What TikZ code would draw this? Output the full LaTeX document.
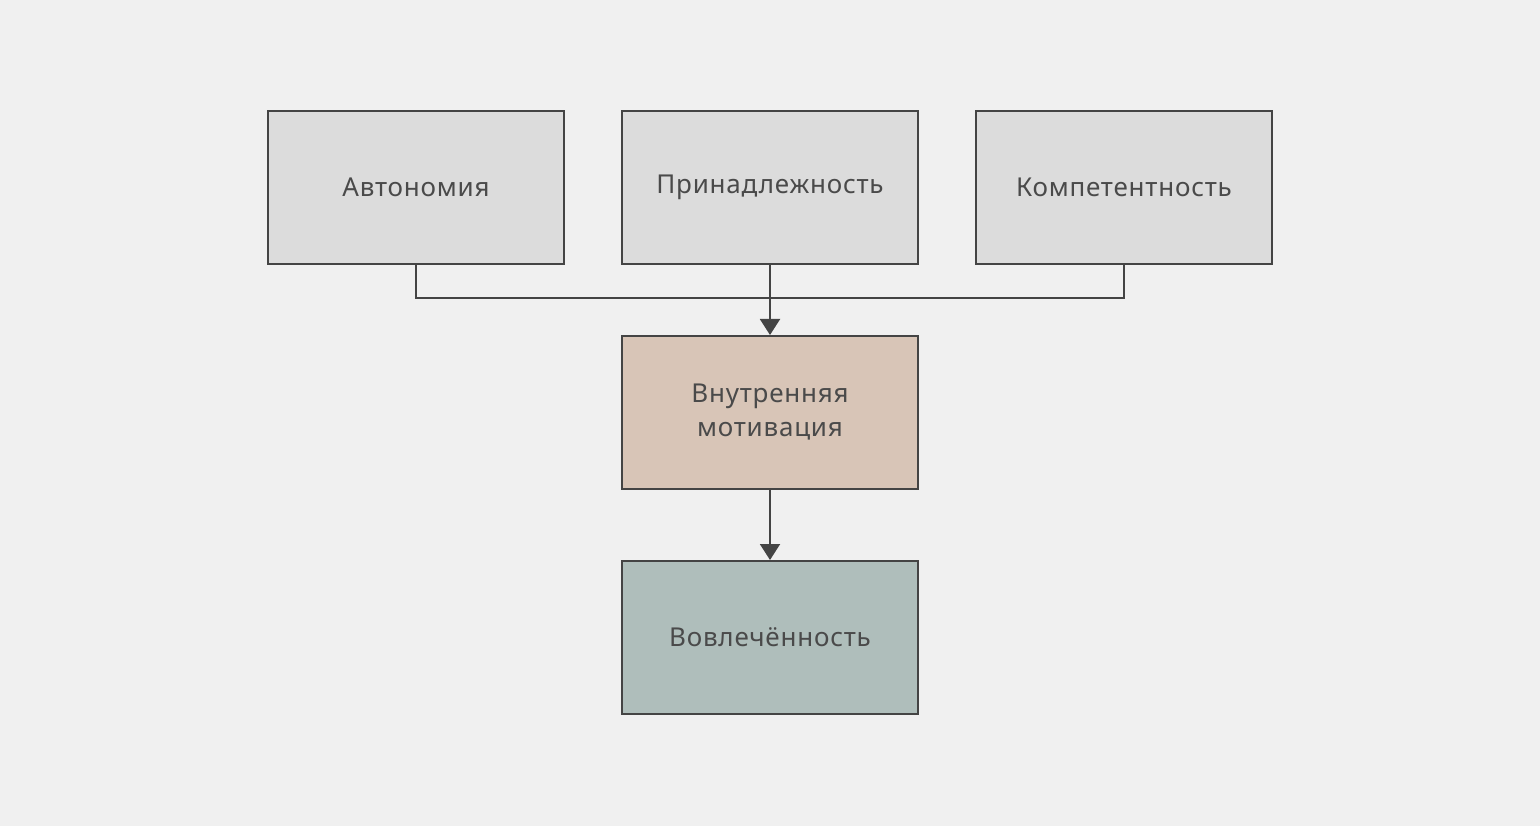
\documentclass[tikz,border=0pt]{standalone}
\usepackage{fontspec}
\setmainfont{Noto Sans}
\usetikzlibrary{arrows.meta}
\definecolor{bg}{HTML}{F0F0F0}
\definecolor{boxgray}{HTML}{DCDCDC}
\definecolor{boxtan}{HTML}{D8C5B7}
\definecolor{boxgreen}{HTML}{AFBEBB}
\definecolor{ink}{HTML}{444444}
\definecolor{txt}{HTML}{4A4A4A}
\begin{document}
\begin{tikzpicture}[x=1pt,y=-1pt,
  box/.style={draw=ink, line width=2pt, minimum width=296pt, minimum height=153pt,
    inner sep=0pt, align=center, text=txt,
    font=\fontsize{26}{34}\selectfont\addfontfeature{LetterSpace=3}},
  conn/.style={draw=ink, line width=2pt},
  arr/.style={conn, -{Triangle[length=16pt,width=20pt]}}]
\fill[bg] (0,0) rectangle (1540,826);
\useasboundingbox (0,0) rectangle (1540,826);
\node[box, fill=boxgray] (a) at (416,187.5) {Автономия};
\node[box, fill=boxgray] (p) at (770,187.5) {Принадлежность};
\node[box, fill=boxgray] (k) at (1124,187.5) {Компетентность};
\node[box, fill=boxtan] (m) at (770,412.5) {Внутренняя\\мотивация};
\node[box, fill=boxgreen] (v) at (770,637.5) {Вовлечённость};
\coordinate (j) at (770,298);
\draw[conn] (a.south) |- (j) -| (k.south);
\draw[arr] (p.south) -- (m.north);
\draw[arr] (m.south) -- (v.north);
\end{tikzpicture}
\end{document}
